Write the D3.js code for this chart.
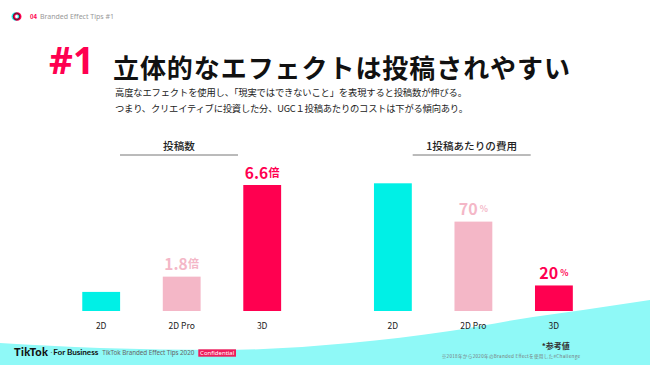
<!DOCTYPE html>
<html>
<head>
<meta charset="utf-8">
<script src="https://cdn.jsdelivr.net/npm/d3@7"></script>
<style>
  body{margin:0;background:#fff;}
  svg{display:block;font-family:"Noto Sans CJK JP","Noto Sans",sans-serif;}
</style>
</head>
<body>
<svg id="main"></svg>
<script>
var WIDTH=650, HEIGHT=365;

// データ
const cats=["2D","2D Pro","3D"];
const postCounts=[1,1.8,6.6];          // 投稿数 (2D=1)
const postLabels=["","1.8","6.6"];
const costPct=[100,70,20];             // 1投稿あたりの費用 (2D=100%)
const costLabels=["","70","20"];
const barColors=["#00f0e6","#f4b7c7","#ff0050"];

const RED="#ff0050";
const BASE=311;

var svg=d3.select("#main").attr("width",WIDTH).attr("height",HEIGHT);

// 下の水色の波 (装飾)
var wavePts=[[0,343],[100,348],[220,350],[350,343],[450,331],[533,317],[583,310],[650,300]];
var waveLine=d3.line().curve(d3.curveMonotoneX);
svg.append("path")
    .attr("d",waveLine(wavePts)+"L650,365L0,365Z")
    .attr("fill","#8ff9f7");

// ヘッダー
svg.append("circle").attr("cx",15.8).attr("cy",16.5).attr("r",3.2)
    .attr("fill","none").attr("stroke","#25f4ee").attr("stroke-width",2.2);
svg.append("circle").attr("cx",17.2).attr("cy",16.5).attr("r",3.2)
    .attr("fill","none").attr("stroke",RED).attr("stroke-width",2.2);
svg.append("circle").attr("cx",16.5).attr("cy",16.5).attr("r",3.2)
    .attr("fill","none").attr("stroke","#222").attr("stroke-width",0.8);
svg.append("text").attr("x",30).attr("y",16.5).attr("dominant-baseline","central")
    .attr("font-size",6).attr("font-weight",700).attr("fill",RED).text("04");
svg.append("text").attr("x",40).attr("y",16.5).attr("dominant-baseline","central")
    .attr("font-size",7).attr("fill","#999").attr("font-family","Noto Sans")
    .text("Branded Effect Tips #1");

// タイトル
svg.append("text").attr("x",49).attr("y",74.3)
    .attr("font-size",37).attr("font-weight",700).attr("fill",RED)
    .attr("font-family","Noto Sans").text("#1");
svg.append("text").attr("x",113).attr("y",66.5).attr("dominant-baseline","central")
    .attr("font-size",26).attr("font-weight",700).attr("fill","#111")
    .attr("textLength",457).text("立体的なエフェクトは投稿されやすい");
svg.append("text").attr("x",115).attr("y",91.7).attr("dominant-baseline","central")
    .attr("font-size",9.3).attr("fill","#222").attr("textLength",352)
    .text("高度なエフェクトを使用し、「現実ではできないこと」を表現すると投稿数が伸びる。");
svg.append("text").attr("x",115).attr("y",108.3).attr("dominant-baseline","central")
    .attr("font-size",9.3).attr("fill","#222").attr("textLength",353)
    .text("つまり、クリエイティブに投資した分、UGC１投稿あたりのコストは下がる傾向あり。");

// 棒グラフを描く
function drawChart(opt){
    var g=svg.append("g").attr("class",opt.cls);
    var x=d3.scaleBand().domain(cats).range(opt.xr).padding(0.53);
    var y=d3.scaleLinear().domain([0,opt.max]).range([BASE,opt.top]);
    var rows=cats.map(function(c,i){return {cat:c,v:opt.values[i],lab:opt.labels[i],color:barColors[i]};});

    // 見出し + 線
    var cx=(opt.lineX[0]+opt.lineX[1])/2;
    g.append("text").attr("x",cx).attr("y",145).attr("text-anchor","middle")
        .attr("dominant-baseline","central").attr("font-size",10.6).attr("font-weight",500)
        .attr("fill","#222").text(opt.title);
    g.append("line").attr("x1",opt.lineX[0]).attr("x2",opt.lineX[1])
        .attr("y1",155).attr("y2",155).attr("stroke","#777").attr("stroke-width",1);

    g.selectAll("rect").data(rows).enter().append("rect")
        .attr("x",function(d){return x(d.cat)})
        .attr("y",function(d){return y(d.v)})
        .attr("width",x.bandwidth())
        .attr("height",function(d){return BASE-y(d.v)})
        .attr("fill",function(d){return d.color});

    // 値ラベル
    var labs=g.selectAll("text.val").data(rows.filter(function(d){return d.lab!==""})).enter()
        .append("text").attr("class","val")
        .attr("x",function(d){return x(d.cat)+x.bandwidth()/2})
        .attr("y",function(d){return y(d.v)-13.5})
        .attr("text-anchor","middle").attr("dominant-baseline","central")
        .attr("font-weight",700)
        .attr("fill",function(d){return d.color});
    labs.append("tspan").attr("font-size",opt.numSize).text(function(d){return d.lab});
    labs.append("tspan").attr("font-size",opt.unitSize).attr("dx",opt.unitDx).text(opt.unit);

    // カテゴリ
    g.selectAll("text.cat").data(rows).enter().append("text").attr("class","cat")
        .attr("x",function(d){return x(d.cat)+x.bandwidth()/2})
        .attr("y",324.5).attr("text-anchor","middle").attr("dominant-baseline","central")
        .attr("font-size",8.5).attr("fill","#222")
        .text(function(d){return d.cat});
}

drawChart({cls:"posts",title:"投稿数",values:postCounts,labels:postLabels,max:6.6,top:185,
    xr:[39.6,323.8],lineX:[120,238],unit:"倍",numSize:15.5,unitSize:11,unitDx:0.5});
drawChart({cls:"cost",title:"1投稿あたりの費用",values:costPct,labels:costLabels,max:100,top:183.3,
    xr:[331.3,615.5],lineX:[412.7,530.7],unit:"%",numSize:16,unitSize:8.5,unitDx:2});

// フッター
svg.append("text").attr("x",14).attr("y",351.7).attr("dominant-baseline","central")
    .attr("font-family","Lato").attr("font-weight",900).attr("font-size",11)
    .attr("fill","#111").attr("textLength",34).text("TikTok");
svg.append("text").attr("x",49.5).attr("y",351.7).attr("dominant-baseline","central")
    .attr("font-size",7).attr("fill","#555").text("·");
svg.append("text").attr("x",53.3).attr("y",351.7).attr("dominant-baseline","central")
    .attr("font-family","Lato").attr("font-weight",700).attr("font-size",8.2)
    .attr("fill","#111").attr("textLength",45).text("For Business");
svg.append("text").attr("x",102.3).attr("y",352).attr("dominant-baseline","central")
    .attr("font-family","Noto Sans").attr("font-size",6.3)
    .attr("fill","#666").attr("textLength",92).text("TikTok Branded Effect Tips 2020");
svg.append("rect").attr("x",198.3).attr("y",349.3).attr("width",37.7).attr("height",7.4)
    .attr("fill","#ee1d5c");
svg.append("text").attr("x",217.2).attr("y",353).attr("text-anchor","middle")
    .attr("dominant-baseline","central").attr("font-family","Noto Sans").attr("font-size",6)
    .attr("fill","#fff").text("Confidential");

svg.append("text").attr("x",541.7).attr("y",345).attr("dominant-baseline","central")
    .attr("font-size",8).attr("font-weight",700).attr("fill","#333").text("*参考値");
svg.append("text").attr("x",441.7).attr("y",355.7).attr("dominant-baseline","central")
    .attr("font-size",4.6).attr("fill","#777").attr("textLength",138.3)
    .text("※2018年から2020年のBranded Effectを使用した#Challenge");
</script>
</body>
</html>
